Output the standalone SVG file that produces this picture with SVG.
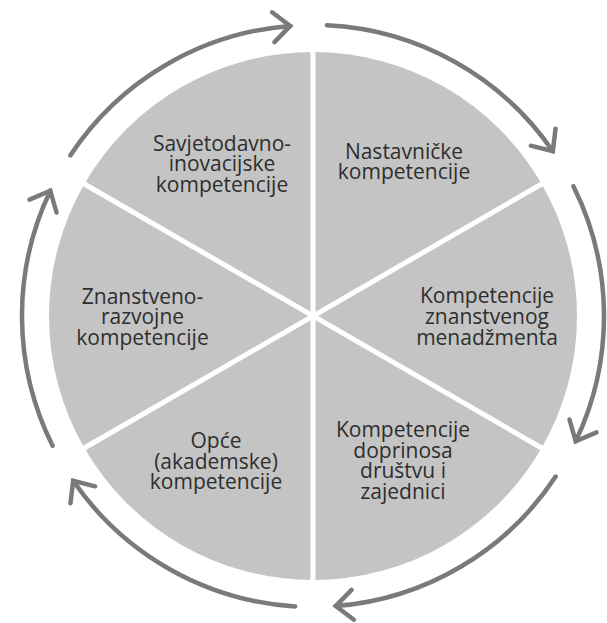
<svg xmlns="http://www.w3.org/2000/svg" width="607" height="623" viewBox="0 0 607 623">
<style>
.sector{fill:#c4c4c4;stroke:none}
.lbl{font-family:"Open Sans","Noto Sans","Liberation Sans",sans-serif;font-size:21px;font-weight:500;fill:#2e2e2e;text-anchor:middle}
.divider{stroke:#ffffff;stroke-width:5;fill:none}
.flow{fill:none;stroke:#7a7a7a;stroke-width:4.5;stroke-linecap:round;marker-end:url(#chev)}
</style>
<defs>
<marker id="chev" markerUnits="userSpaceOnUse" viewBox="-22 -20 26 40" refX="0" refY="0" markerWidth="26" markerHeight="40" orient="auto" overflow="visible">
<path d="M-17,-15 L0,0 L-17,15" fill="none" stroke="#7a7a7a" stroke-width="4.5" stroke-linecap="round" stroke-linejoin="miter"/>
</marker>
</defs>
<rect width="607" height="623" fill="#ffffff"/>
<g id="node-nastavnicke">
<path class="sector" d="M313 316 L313 52 A264 264 0 0 1 541.63 184 Z"/>
<text class="lbl" x="404" y="158.5">Nastavničke</text>
<text class="lbl" x="404" y="179">kompetencije</text>
</g>
<g id="node-menadzment">
<path class="sector" d="M313 316 L541.63 184 A264 264 0 0 1 541.63 448 Z"/>
<text class="lbl" x="487" y="303">Kompetencije</text>
<text class="lbl" x="487" y="324">znanstvenog</text>
<text class="lbl" x="487" y="345">menadžmenta</text>
</g>
<g id="node-drustvo">
<path class="sector" d="M313 316 L541.63 448 A264 264 0 0 1 313 580 Z"/>
<text class="lbl" x="403" y="437">Kompetencije</text>
<text class="lbl" x="403" y="457.5">doprinosa</text>
<text class="lbl" x="403" y="478">društvu i</text>
<text class="lbl" x="403" y="498.5">zajednici</text>
</g>
<g id="node-opce">
<path class="sector" d="M313 316 L313 580 A264 264 0 0 1 84.37 448 Z"/>
<text class="lbl" x="216" y="448">Opće</text>
<text class="lbl" x="216" y="468.5">(akademske)</text>
<text class="lbl" x="216" y="489">kompetencije</text>
</g>
<g id="node-razvojne">
<path class="sector" d="M313 316 L84.37 448 A264 264 0 0 1 84.37 184 Z"/>
<text class="lbl" x="142.5" y="303.5">Znanstveno-</text>
<text class="lbl" x="142.5" y="324">razvojne</text>
<text class="lbl" x="142.5" y="344.5">kompetencije</text>
</g>
<g id="node-savjetodavno">
<path class="sector" d="M313 316 L84.37 184 A264 264 0 0 1 313 52 Z"/>
<text class="lbl" x="222" y="150.5">Savjetodavno-</text>
<text class="lbl" x="222" y="171">inovacijske</text>
<text class="lbl" x="222" y="191.5">kompetencije</text>
</g>
<g id="dividers">
<line class="divider" x1="313" y1="50" x2="313" y2="582"/>
<line class="divider" x1="82.6" y1="183" x2="543.4" y2="449"/>
<line class="divider" x1="82.6" y1="449" x2="543.4" y2="183"/>
</g>
<g id="connectors">
<path class="flow" d="M70.3 155.4 A291 291 0 0 1 290.2 25.9"/>
<path class="flow" d="M327 25.3 A291 291 0 0 1 552.8 151.2"/>
<path class="flow" d="M573.4 186.2 A291 291 0 0 1 575.7 441.3"/>
<path class="flow" d="M555.7 476.6 A291 291 0 0 1 335.8 606.1"/>
<path class="flow" d="M295.2 606.4 A291 291 0 0 1 73.2 480.8"/>
<path class="flow" d="M52.6 445.8 A291 291 0 0 1 50.3 190.7"/>
</g>
</svg>
